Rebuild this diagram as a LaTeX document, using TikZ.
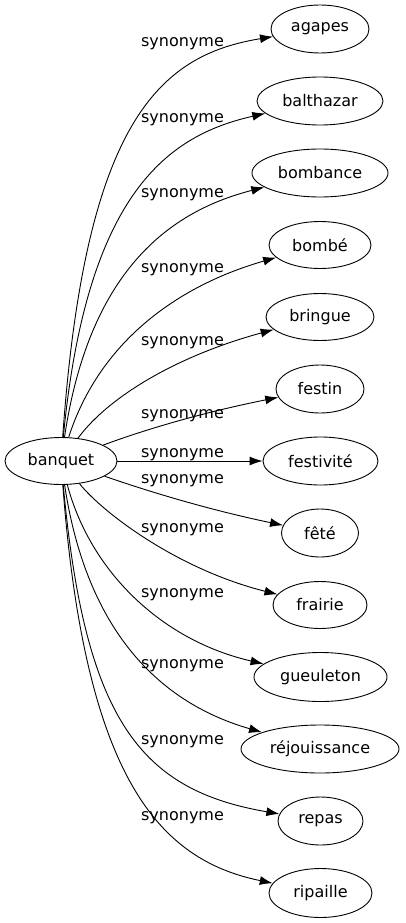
\documentclass[tikz,border=0pt]{standalone}
\usepackage{fontspec}
\setmainfont{DejaVu Sans}
\usepackage{tikz}
\usetikzlibrary{shapes.geometric,arrows.meta}

\begin{document}
\begin{tikzpicture}[x=1pt,y=-1pt,
    every node/.style={font=\fontsize{16}{19}\selectfont},
    word/.style={draw,ellipse,inner sep=0pt,minimum height=48pt,line width=0.9pt},
    syn/.style={anchor=base},
    link/.style={line width=0.9pt,-{Latex[length=13pt,width=9pt]}}]
    \useasboundingbox (0,0) rectangle (405,923);
    \node[word,minimum width=112pt,minimum height=47pt] (banquet) at (61,461) {banquet};
    \node[word,minimum width=98pt] (agapes) at (320,29) {agapes};
    \node[word,minimum width=126pt] (balthazar) at (320,101) {balthazar};
    \node[word,minimum width=136pt] (bombance) at (320,173) {bombance};
    \node[word,minimum width=102pt,minimum height=47pt] (bombe) at (320,245) {bombé};
    \node[word,minimum width=108pt,minimum height=47pt] (bringue) at (320,317) {bringue};
    \node[word,minimum width=88pt] (festin) at (320,389) {festin};
    \node[word,minimum width=115pt] (festivite) at (320.5,461) {festivité};
    \node[word,minimum width=77pt] (fete) at (320,533) {fêté};
    \node[word,minimum width=94pt,minimum height=47pt] (frairie) at (320,605) {frairie};
    \node[word,minimum width=133pt,minimum height=49pt] (gueuleton) at (320.5,677) {gueuleton};
    \node[word,minimum width=158pt] (rejouissance) at (320,749) {réjouissance};
    \node[word,minimum width=85pt] (repas) at (320.5,821) {repas};
    \node[word,minimum width=103pt,minimum height=49pt] (ripaille) at (320.5,893) {ripaille};
    % edge labels
    \node[syn] (s1) at (182.5,47) {synonyme};
    \node[syn] (s2) at (182.5,122) {synonyme};
    \node[syn] (s3) at (182.5,197) {synonyme};
    \node[syn] (s4) at (182.5,272) {synonyme};
    \node[syn] (s5) at (182.5,345) {synonyme};
    \node[syn] (s6) at (182.5,418) {synonyme};
    \node[syn] (s7) at (182.5,457) {synonyme};
    \node[syn] (s8) at (182.5,483) {synonyme};
    \node[syn] (s9) at (182.5,532) {synonyme};
    \node[syn] (s10) at (182.5,597) {synonyme};
    \node[syn] (s11) at (182.5,668) {synonyme};
    \node[syn] (s12) at (182.5,744) {synonyme};
    \node[syn] (s13) at (182.5,820) {synonyme};
    % edges
    \draw[link] (banquet) .. controls (85,120) and (160,55) .. (agapes);
    \draw[link] (banquet) .. controls (87,190) and (170,135) .. (balthazar);
    \draw[link] (banquet) .. controls (90,265) and (175,210) .. (bombance);
    \draw[link] (banquet) .. controls (100,340) and (180,285) .. (bombe);
    \draw[link] (banquet) .. controls (110,395) and (180,355) .. (bringue);
    \draw[link] (banquet) .. controls (130,435) and (190,415) .. (festin);
    \draw[link] (banquet) -- (festivite);
    \draw[link] (banquet) .. controls (150,492) and (210,510) .. (fete);
    \draw[link] (banquet) .. controls (105,515) and (180,570) .. (frairie);
    \draw[link] (banquet) .. controls (90,570) and (160,640) .. (gueuleton);
    \draw[link] (banquet) .. controls (85,620) and (150,700) .. (rejouissance);
    \draw[link] (banquet) .. controls (85,720) and (140,790) .. (repas);
    \draw[link] (banquet) .. controls (85,780) and (160,860) .. (ripaille);
\end{tikzpicture}
\end{document}
